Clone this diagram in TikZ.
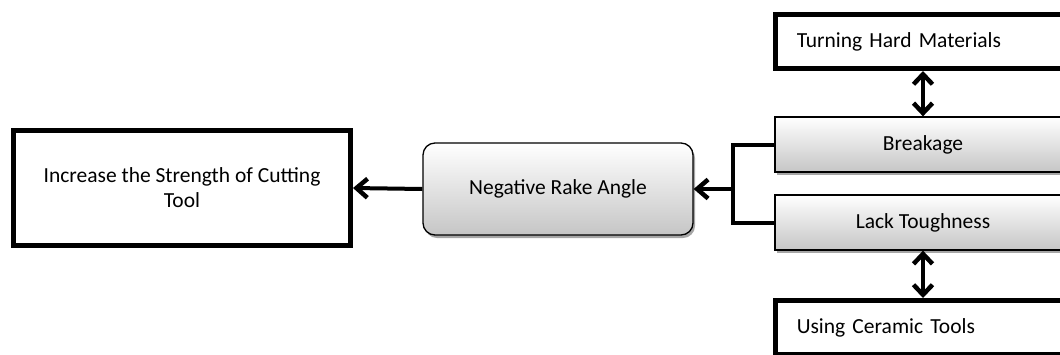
\documentclass[tikz,border=0pt]{standalone}
\usepackage{fontspec}
\setmainfont{Carlito}
\usetikzlibrary{arrows.meta,shadows,calc}

\begin{document}
\begin{tikzpicture}[x=1pt,y=-1pt,
  every node/.style={font=\fontsize{21.5}{25}\selectfont, inner sep=0pt},
  plainbox/.style={draw=black, line width=5pt, fill=white, align=center},
  notebox/.style={draw=black, line width=5pt, fill=white, align=left,
    inner xsep=21.5pt, text width=256.5pt, minimum height=54pt},
  shadebox/.style={draw=black, line width=1.3pt, top color=white, bottom color=gray!45,
    drop shadow={shadow xshift=2pt, shadow yshift=-3pt, opacity=0.35, fill=black}},
  link/.style={line width=4pt, line join=miter},
  oneway/.style={link, -{Straight Barb[length=11pt, width=19pt, line width=4.5pt]}},
  twoway/.style={link, {Straight Barb[length=10pt, width=19pt, line width=4.5pt]}-{Straight Barb[length=10pt, width=19pt, line width=4.5pt]}}
]
\useasboundingbox (0,0) rectangle (1060,354);
\clip (0,0) rectangle (1060,354);

% result box on the left
\node[plainbox, minimum width=337pt, minimum height=115pt] (strength) at (182,188)
  {Increase the Strength of Cutting\\Tool};

% central cause
\node[shadebox, rounded corners=12pt, minimum width=270pt, minimum height=92pt] (rake) at (558,189)
  {Negative Rake Angle};

% two problems on the right
\node[shadebox, minimum width=296pt, minimum height=55pt] (break) at (923,144.5) {Breakage};
\node[shadebox, minimum width=296pt, minimum height=55pt] (tough) at (923,222.5) {Lack Toughness};

% situations linked to each problem
\node[notebox] (hard) at (925,41.5) {Turning Hard Materials};
\node[notebox] (ceramic) at (925,327.5) {Using Ceramic Tools};

% bracket joining both problems
\coordinate (join) at (733,189);
\draw[link] (break.west) -| (join) |- (tough.west);
\draw[oneway] (join) -- (rake.east);
\draw[oneway] (rake.west) -- (strength.east);

% two-way links
\draw[twoway] (break.north |- hard.south) -- (break.north);
\draw[twoway] (tough.south) -- (tough.south |- ceramic.north);
\end{tikzpicture}
\end{document}
